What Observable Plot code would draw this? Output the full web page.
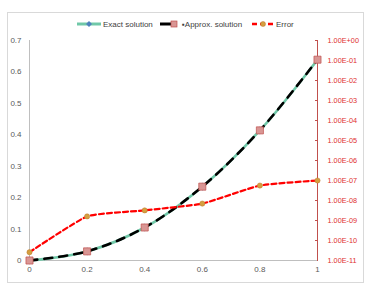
<!DOCTYPE html>
<html><head><meta charset="utf-8">
<script src="https://cdn.jsdelivr.net/npm/d3@7"></script>
<script src="https://cdn.jsdelivr.net/npm/@observablehq/plot@0.6"></script>
<style>
body{margin:0;background:#fff;font-family:"Liberation Sans",Arial,sans-serif;}
#wrap{position:relative;width:373px;height:288px;}
#frame{position:absolute;left:7px;top:12px;width:355px;height:269px;border:1px solid #d9d9d9;pointer-events:none;}
#legend{position:absolute;top:18px;left:0;width:373px;height:12px;font-size:8px;color:#404040;}
.it{position:absolute;top:0;display:flex;align-items:center;height:12px;}
.it svg{margin-right:2px}
#chart{position:absolute;left:0;top:0}
</style></head><body>
<div id="wrap"><div id="chart"></div><div id="frame"></div>
<div id="legend">
 <div class="it" style="left:77px"><svg width="24" height="10"><line x1="0" y1="5" x2="24" y2="5" stroke="#70c8a8" stroke-width="3"/><path d="M12,2 L15,5 L12,8 L9,5Z" fill="#4f81bd"/></svg><span>Exact solution</span></div>
 <div class="it" style="left:160px"><svg width="20" height="10"><line x1="0" y1="5" x2="14" y2="5" stroke="#000" stroke-width="3"/><rect x="11" y="2" width="6" height="6" fill="#d99694" stroke="#c0504d" stroke-width="0.7"/></svg><span>▪Approx. solution</span></div>
 <div class="it" style="left:252px"><svg width="22" height="10"><line x1="0" y1="5" x2="22" y2="5" stroke="#ff0000" stroke-width="2.5" stroke-dasharray="5,3"/><circle cx="11" cy="5" r="2.5" fill="#d4a040" stroke="#c07830" stroke-width="0.5"/></svg><span>Error</span></div>
</div></div>
<script>
const xs = [0, 0.2, 0.4, 0.6, 0.8, 1];
const exact = [0, 0.029, 0.105, 0.235, 0.414, 0.639];
const approx = [0, 0.029, 0.105, 0.235, 0.414, 0.639];
const error = [2.6e-11, 1.6e-9, 3.2e-9, 7.0e-9, 5.6e-8, 1.0e-7];
const xTicks = [0, 0.2, 0.4, 0.6, 0.8, 1];
const yTicks = [0, 0.1, 0.2, 0.3, 0.4, 0.5, 0.6, 0.7];
const errExps = [0, -1, -2, -3, -4, -5, -6, -7, -8, -9, -10, -11];

const yMax = 0.7, logMin = -11, logMax = 0;
const toY = e => (Math.log10(e) - logMin) / (logMax - logMin) * yMax;
const expToY = k => (k - logMin) / (logMax - logMin) * yMax;
const fmtExp = k => "1.00E" + (k >= 0 ? "+" : "-") + String(Math.abs(k)).padStart(2, "0");
const fmtNum = d => String(+(+d).toFixed(2));

const rows = xs.map((x, i) => ({x, exact: exact[i], approx: approx[i], err: toY(error[i])}));
const rightTicks = errExps.map(expToY);
const tickLabel = new Map(errExps.map(k => [expToY(k).toFixed(8), fmtExp(k)]));

const chart = Plot.plot({
  width: 373, height: 288,
  marginLeft: 29, marginRight: 56, marginTop: 40, marginBottom: 28,
  x: {domain: [0, 1]},
  y: {domain: [0, yMax]},
  style: {fontFamily: "Liberation Sans, Arial, sans-serif", fontSize: "8px", background: "transparent", color: "#595959"},
  marks: [
    Plot.axisX({ticks: xTicks, tickSize: 0, tickPadding: 6, label: null, fill: "#595959", tickFormat: fmtNum}),
    Plot.axisY({ticks: yTicks, tickSize: 0, tickPadding: 8, label: null, fill: "#595959", tickFormat: fmtNum}),
    Plot.axisY({anchor: "right", ticks: rightTicks, tickSize: 3, dx: -3, tickPadding: 10, label: null, fontSize: 7.3,
      stroke: "#c0504d", fill: "#e03030", tickFormat: v => tickLabel.get(v.toFixed(8))}),
    Plot.ruleX([0], {stroke: "#bfbfbf"}),
    Plot.ruleY([0], {stroke: "#bfbfbf"}),
    Plot.ruleX([1], {stroke: "#c0504d"}),
    Plot.line(rows, {x: "x", y: "exact", stroke: "#70c8a8", strokeWidth: 2.6, curve: "catmull-rom"}),
    Plot.line(rows, {x: "x", y: "approx", stroke: "#000", strokeWidth: 2.6, strokeDasharray: "8,7", curve: "catmull-rom"}),
    Plot.line(rows, {x: "x", y: "err", stroke: "#ff0000", strokeWidth: 2.2, strokeDasharray: "5,3", curve: "cardinal", tension: 0.55}),
    Plot.dot(rows, {x: "x", y: "exact", symbol: "diamond", r: 2.5, fill: "#4f81bd"}),
    Plot.dot(rows, {x: "x", y: "approx", symbol: "square", r: 4, fill: "#d99694", stroke: "#c0504d", strokeWidth: 0.7}),
    Plot.dot(rows, {x: "x", y: "err", symbol: "circle", r: 2.6, fill: "#d4a040", stroke: "#c07830", strokeWidth: 0.5})
  ]
});
document.getElementById("chart").appendChild(chart);
</script></body></html>
